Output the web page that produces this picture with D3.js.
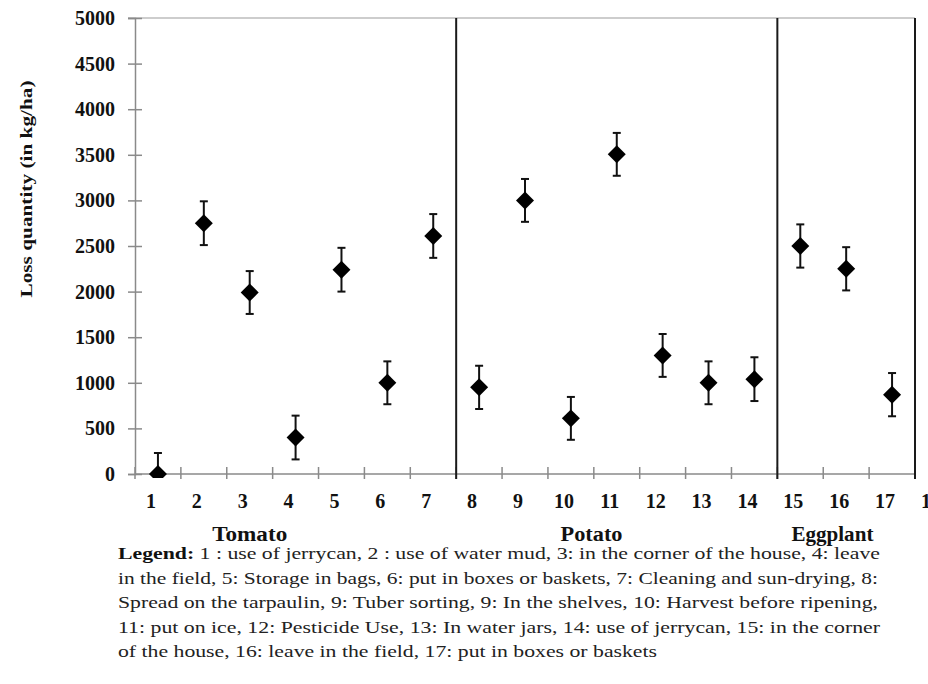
<!DOCTYPE html>
<html>
<head>
<meta charset="utf-8">
<script src="https://cdn.jsdelivr.net/npm/d3@7"></script>
<style>
  html, body { margin: 0; padding: 0; background: #fff; }
  svg { display: block; font-family: "Liberation Serif", "Times New Roman", serif; }
</style>
</head>
<body>
<div id="chart"></div>
<script>
// ── Data ───────────────────────────────────────────────────────────────

const categories = ["1","2","3","4","5","6","7","8","9","10","11","12","13","14","15","16","17"];
const lossValues = [0, 2750, 1990, 400, 2240, 1000, 2610, 950, 3000, 610, 3505, 1300, 1000, 1040, 2500, 2250, 870];
const lossErrors = [230, 240, 235, 240, 240, 235, 240, 237, 235, 235, 235, 235, 235, 240, 237, 237, 237];
const tickLabels = ["1","2","3","4","5","6","7","8","9","10","11","12","13","14","15","16","17","18"];
const yTicks = [0, 500, 1000, 1500, 2000, 2500, 3000, 3500, 4000, 4500, 5000];
const groupNames = ["Tomato", "Potato", "Eggplant"];
const groupLast = ["7", "14", "17"];

const legendLines = [
  ["Legend:", " 1 : use of jerrycan, 2 : use of water mud, 3: in the corner of the house, 4: leave"],
  ["", "in the field, 5: Storage in bags, 6: put in boxes or baskets, 7: Cleaning and sun-drying, 8:"],
  ["", "Spread on the tarpaulin, 9: Tuber sorting, 9: In the shelves, 10: Harvest before ripening,"],
  ["", "11: put on ice, 12: Pesticide Use, 13: In water jars, 14: use of jerrycan, 15: in the corner"],
  ["", "of the house, 16: leave in the field, 17: put in boxes or baskets"]
];

// ── Setup ──────────────────────────────────────────────────────────────

const W = 928, H = 684;
const svg = d3.select("#chart").append("svg").attr("width", W).attr("height", H);

const x = d3.scaleBand().domain(categories).range([135, 915]).padding(0);
const y = d3.scaleLinear().domain([0, 5000]).range([474, 18]);
const cx = c => x(c) + x.bandwidth() / 2;

const AXIS = "#8a8a8a";

// ── Grid top line ──
svg.append("line")
  .attr("x1", 128).attr("x2", x.range()[1])
  .attr("y1", y(5000)).attr("y2", y(5000))
  .attr("stroke", "#bdbdbd").attr("stroke-width", 1.5);

// ── Y axis ──
const yAxis = svg.append("g").attr("transform", `translate(${x.range()[0]},0)`)
  .call(d3.axisLeft(y).tickValues(yTicks).tickSize(7).tickPadding(13).tickFormat(d3.format("d")));
yAxis.select(".domain").attr("stroke", AXIS).attr("stroke-width", 1.5);
yAxis.selectAll(".tick line").attr("x1", -7).attr("x2", 7).attr("stroke", AXIS).attr("stroke-width", 1.5);
yAxis.selectAll(".tick text")
  .attr("font-family", "Liberation Serif").attr("font-weight", 700)
  .attr("font-size", 20).attr("fill", "#111");

svg.append("text")
  .attr("transform", `translate(32,${(y(5000) + y(0)) / 2 - 57}) rotate(-90)`)
  .attr("text-anchor", "middle")
  .attr("font-weight", 700).attr("font-size", 17).attr("fill", "#111")
  .attr("textLength", 217).attr("lengthAdjust", "spacingAndGlyphs")
  .text("Loss quantity (in kg/ha)");

// ── X axis ──
svg.append("line")
  .attr("x1", x.range()[0]).attr("x2", x.range()[1])
  .attr("y1", y(0)).attr("y2", y(0))
  .attr("stroke", AXIS).attr("stroke-width", 1.5);

const bounds = categories.map(c => x(c)).concat([x.range()[1]]);
svg.append("g").selectAll("line").data(bounds).join("line")
  .attr("x1", d => d).attr("x2", d => d)
  .attr("y1", y(0) - 7).attr("y2", y(0) + 5)
  .attr("stroke", AXIS).attr("stroke-width", 1.5);

svg.append("g").selectAll("text").data(tickLabels).join("text")
  .attr("x", (d, i) => x.range()[0] + x.step() * (i + 0.5) - 7)
  .attr("y", y(0) + 34)
  .attr("text-anchor", "middle")
  .attr("font-weight", 700).attr("font-size", 20).attr("fill", "#111")
  .text(d => d);

// ── Group separators ──
svg.append("g").selectAll("line").data(groupLast).join("line")
  .attr("x1", d => x(d) + x.bandwidth()).attr("x2", d => x(d) + x.bandwidth())
  .attr("y1", y(5000)).attr("y2", y(0) + 5)
  .attr("stroke", "#1a1a1a").attr("stroke-width", 2);

// group labels anchored on category positions
const groupAnchor = [3, 10.45, 15.7];
const groupWidth = [75, 62, 82];
svg.append("g").selectAll("text").data(groupNames).join("text")
  .attr("x", (d, i) => x.range()[0] + x.step() * (groupAnchor[i] - 0.5))
  .attr("y", 541)
  .attr("text-anchor", "middle")
  .attr("font-weight", 700).attr("font-size", 20).attr("fill", "#111")
  .attr("textLength", (d, i) => groupWidth[i]).attr("lengthAdjust", "spacingAndGlyphs")
  .text(d => d);

// ── Points + error bars ──
svg.append("clipPath").attr("id", "plotclip")
  .append("rect").attr("x", 0).attr("y", 0).attr("width", W).attr("height", y(0) + 4);

const pts = categories.map((c, i) => ({ c, v: lossValues[i], e: lossErrors[i] }));
const plot = svg.append("g").attr("clip-path", "url(#plotclip)");

const eb = plot.selectAll("g.eb").data(pts).join("g").attr("class", "eb")
  .attr("stroke", "#111").attr("stroke-width", 2);
eb.append("line")
  .attr("x1", d => cx(d.c)).attr("x2", d => cx(d.c))
  .attr("y1", d => y(Math.max(0, d.v - d.e))).attr("y2", d => y(d.v + d.e));
eb.append("line")
  .attr("x1", d => cx(d.c) - 4).attr("x2", d => cx(d.c) + 4)
  .attr("y1", d => y(d.v + d.e)).attr("y2", d => y(d.v + d.e));
eb.filter(d => d.v - d.e > 0).append("line")
  .attr("x1", d => cx(d.c) - 4).attr("x2", d => cx(d.c) + 4)
  .attr("y1", d => y(d.v - d.e)).attr("y2", d => y(d.v - d.e));

plot.selectAll("path.pt").data(pts).join("path").attr("class", "pt")
  .attr("d", d3.symbol(d3.symbolDiamond2, 206))
  .attr("transform", d => `translate(${cx(d.c)},${y(d.v)})`)
  .attr("fill", "#000");

// ── Legend ──
const lineWidths = [762, 760, 760, 762, 539];
const lg = svg.append("g");
legendLines.forEach((ln, i) => {
  const t = lg.append("text")
    .attr("x", 118).attr("y", 559 + i * 24.5)
    .attr("font-size", 17).attr("fill", "#222")
    .attr("textLength", lineWidths[i]).attr("lengthAdjust", "spacingAndGlyphs");
  if (ln[0]) t.append("tspan").attr("font-weight", 700).attr("fill", "#111").text(ln[0]);
  t.append("tspan").text(ln[1]);
});
</script>
</body>
</html>
